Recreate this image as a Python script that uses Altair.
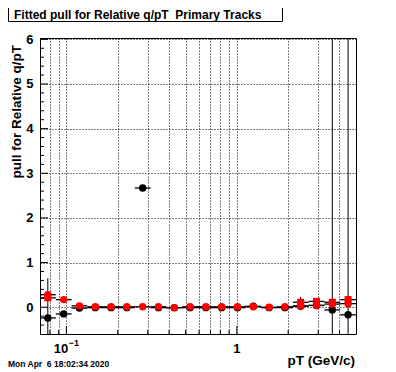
import altair as alt
import pandas as pd
import numpy as np

TITLE = "Fitted pull for Relative q/pT \u00a0Primary Tracks"
Y_TITLE = "pull for Relative q/pT"
X_TITLE = "pT (GeV/c)"
DATE = "Mon Apr \u00a06 18:02:34 2020"

# pT bin centres and bin edges (GeV/c)
pt = [0.0778, 0.0964, 0.1193, 0.1477, 0.1828, 0.2263, 0.2802, 0.3468, 0.4294, 0.5315,
      0.658, 0.8147, 1.0085, 1.2485, 1.546, 1.913, 2.368, 2.932, 3.630, 4.494]
edges = [0.070, 0.0867, 0.1073, 0.1328, 0.1643, 0.2035, 0.2519, 0.3118, 0.3860, 0.4779,
         0.5916, 0.7323, 0.9066, 1.122, 1.389, 1.720, 2.129, 2.636, 3.263, 4.039, 5.0]

# black circles
blk = [-0.24, -0.15, -0.02, -0.01, -0.01, -0.01, 2.67, -0.01, -0.01, -0.01,
       -0.01, -0.01, -0.01, 0.02, -0.01, -0.01, 0.02, 0.04, -0.06, -0.17]
blk_err = [0.89, 0.04, 0.03, 0.02, 0.02, 0.02, 0.04, 0.02, 0.02, 0.02,
           0.02, 0.02, 0.02, 0.02, 0.02, 0.02, 0.04, 0.05, 8.0, 8.0]
# red circles
red = [0.28, 0.17, 0.03, 0.01, 0.01, 0.01, 0.01, 0.01, -0.01, 0.01,
       0.01, 0.01, 0.01, 0.01, 0.0, 0.01, 0.03, 0.04, 0.07, 0.08]
red_err = [0.04, 0.03, 0.02, 0.02, 0.02, 0.02, 0.02, 0.02, 0.02, 0.02,
           0.02, 0.02, 0.02, 0.02, 0.02, 0.02, 0.03, 0.03, 0.04, 0.04]
# red squares (only where visible apart from the circles)
sq = [0.21, None, None, None, None, None, None, None, None, None,
      None, None, None, None, None, None, 0.11, 0.13, 0.11, 0.17]
sq_err = [0.05, None, None, None, None, None, None, None, None, None,
          None, None, None, None, None, None, 0.12, 0.07, 0.05, 0.05]

x_grid = [0.08, 0.09, 0.1, 0.2, 0.3, 0.4, 0.5, 0.6, 0.7, 0.8, 0.9, 1, 2, 3, 4]
x_major = [0.1, 1]
x_minor = [0.08, 0.09, 0.2, 0.3, 0.4, 0.5, 0.6, 0.7, 0.8, 0.9, 2, 3, 4]
y_major = [0, 1, 2, 3, 4, 5, 6]
y_minor = [-0.4, -0.2, 0.2, 0.4, 0.6, 0.8, 1.2, 1.4, 1.6, 1.8, 2.2, 2.4, 2.6, 2.8,
           3.2, 3.4, 3.6, 3.8, 4.2, 4.4, 4.6, 4.8, 5.2, 5.4, 5.6, 5.8]

FONT = "Liberation Sans"
W, H = 316, 296

xs = alt.Scale(type="log", domain=[0.07, 5.0], nice=False)
ys = alt.Scale(domain=[-0.6, 6.03], nice=False, zero=False)

XAX = alt.Axis(values=x_grid, grid=True, gridDash=[1, 2], gridColor="black", gridOpacity=1,
               gridWidth=1, labels=False, ticks=False, tickSize=0, domain=False, title=None)
YAX = alt.Axis(values=y_major, grid=True, gridDash=[1, 2], gridColor="black", gridOpacity=1,
               gridWidth=1, labels=True, labelFont=FONT, labelFontWeight="bold",
               labelFontSize=13, labelColor="black", labelPadding=7, labelFlush=False,
               labelOverlap=False, ticks=False, tickSize=0, domain=False, title=None)


def X(f):
    return alt.X(f, scale=xs, axis=XAX)


def Y(f):
    return alt.Y(f, scale=ys, axis=YAX)


def frame(vals, errs):
    df = pd.DataFrame({"pt": pt, "lo": edges[:-1], "hi": edges[1:], "v": vals, "e": errs})
    df = df.dropna().astype(float)
    df["v_lo"] = df["v"] - df["e"]
    df["v_hi"] = df["v"] + df["e"]
    return df


layers = []

# ticks (inside the frame)
layers.append(alt.Chart(pd.DataFrame({"v": x_major})).mark_rule(color="black").encode(
    x=X("v:Q"), y=alt.value(H), y2=alt.value(H - 8)))
layers.append(alt.Chart(pd.DataFrame({"v": x_minor})).mark_rule(color="black").encode(
    x=X("v:Q"), y=alt.value(H), y2=alt.value(H - 4)))
layers.append(alt.Chart(pd.DataFrame({"v": y_major})).mark_rule(color="black").encode(
    y=Y("v:Q"), x=alt.value(0), x2=alt.value(8)))
layers.append(alt.Chart(pd.DataFrame({"v": y_minor})).mark_rule(color="black").encode(
    y=Y("v:Q"), x=alt.value(0), x2=alt.value(4)))

series = [(frame(blk, blk_err), "black", "circle", 55),
          (frame(sq, sq_err), "#ff0000", "square", 50),
          (frame(red, red_err), "#ff0000", "circle", 55)]

for df, col, shape, size in series:
    layers.append(alt.Chart(df).mark_rule(color="black", strokeWidth=1, clip=True).encode(
        x=X("pt:Q"), y=Y("v_lo:Q"), y2="v_hi:Q"))
    layers.append(alt.Chart(df).mark_rule(color="black", strokeWidth=1.3, clip=True).encode(
        x=X("lo:Q"), x2="hi:Q", y=Y("v:Q")))
for df, col, shape, size in series:
    layers.append(alt.Chart(df).mark_point(filled=True, shape=shape, size=size, color=col,
                                           opacity=1, clip=True).encode(
        x=X("pt:Q"), y=Y("v:Q")))

# x tick labels
layers.append(alt.Chart(pd.DataFrame({"v": [1.0], "t": ["1"]})).mark_text(
    font=FONT, fontWeight="bold", fontSize=13, color="black", baseline="middle", align="center").encode(
    x=X("v:Q"), y=alt.value(311), text="t:N"))
layers.append(alt.Chart(pd.DataFrame({"v": [0.1], "t": ["10"]})).mark_text(
    font=FONT, fontWeight="bold", fontSize=13, color="black", baseline="middle", align="center",
    dx=-5.5).encode(
    x=X("v:Q"), y=alt.value(310.5), text="t:N"))
layers.append(alt.Chart(pd.DataFrame({"v": [0.1], "t": ["\u22121"]})).mark_text(
    font=FONT, fontWeight="bold", fontSize=9, color="black", baseline="middle", align="center",
    dx=7.5).encode(
    x=X("v:Q"), y=alt.value(304.5), text="t:N"))

# titles / annotations
layers.append(alt.Chart(pd.DataFrame({"t": [TITLE]})).mark_rect(
    fill="white", stroke="black", strokeWidth=1).encode(
    x=alt.value(-31.5), x2=alt.value(242.5), y=alt.value(-40), y2=alt.value(-16.5)))
layers.append(alt.Chart(pd.DataFrame({"t": [TITLE]})).mark_text(
    font=FONT, fontWeight="bold", fontSize=12, color="black", align="left", baseline="middle").encode(
    x=alt.value(-26), y=alt.value(-23.5), text="t:N"))
layers.append(alt.Chart(pd.DataFrame({"t": [Y_TITLE]})).mark_text(
    font=FONT, fontWeight="bold", fontSize=13.5, color="black", align="right", baseline="middle",
    angle=270).encode(x=alt.value(-23), y=alt.value(7), text="t:N"))
layers.append(alt.Chart(pd.DataFrame({"t": [X_TITLE]})).mark_text(
    font=FONT, fontWeight="bold", fontSize=13.5, color="black", align="right", baseline="middle").encode(
    x=alt.value(315), y=alt.value(323), text="t:N"))
layers.append(alt.Chart(pd.DataFrame({"t": [DATE]})).mark_text(
    font=FONT, fontWeight="bold", fontSize=8.5, color="black", align="left", baseline="alphabetic").encode(
    x=alt.value(-32), y=alt.value(329), text="t:N"))

chart = alt.layer(*layers).properties(
    width=W, height=H,
    autosize=alt.AutoSizeParams(type="none"),
    padding={"left": 32, "top": 30, "right": 32, "bottom": 38},
    background="white",
).configure_view(stroke="black", strokeWidth=1)

chart.save("out.html", embed_options={"renderer": "svg", "actions": False})
